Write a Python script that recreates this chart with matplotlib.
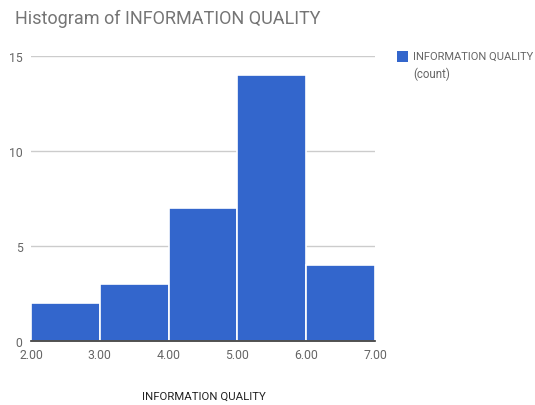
import matplotlib
matplotlib.use("Agg")
import matplotlib.pyplot as plt
from matplotlib.patches import Rectangle

bin_edges = [2.0, 3.0, 4.0, 5.0, 6.0, 7.0]
counts = [2, 3, 7, 14, 4]
x_ticks = [2.0, 3.0, 4.0, 5.0, 6.0, 7.0]
x_tick_labels = ["2.00", "3.00", "4.00", "5.00", "6.00", "7.00"]
y_ticks = [0, 5, 10, 15]
title = "Histogram of INFORMATION QUALITY"
x_label = "INFORMATION QUALITY"
legend_label = "INFORMATION QUALITY\n(count)"

plt.rcParams['font.family'] = ['Roboto', 'DejaVu Sans']

fig = plt.figure(figsize=(5.35, 4.06), dpi=100)
ax = fig.add_axes([31/535, 64/406, 344/535, 285/406])

lefts = bin_edges[:-1]
widths = [b - a for a, b in zip(bin_edges[:-1], bin_edges[1:])]
ax.bar(lefts, counts, width=widths, align='edge', color='#3366cc',
       edgecolor='white', linewidth=1.2, zorder=2)

ax.set_xlim(2.0, 7.0)
ax.set_ylim(0, 15)
ax.set_xticks(x_ticks)
ax.set_xticklabels(x_tick_labels)
ax.set_yticks(y_ticks)
ax.yaxis.grid(True, color='#cccccc', linewidth=1, zorder=0)
ax.set_axisbelow(True)
for s in ['top', 'right', 'left']:
    ax.spines[s].set_visible(False)
ax.spines['bottom'].set_color('#333333')
ax.spines['bottom'].set_linewidth(1.2)
ax.spines['bottom'].set_zorder(3)
ax.tick_params(axis='both', length=0, labelsize=8.8, labelcolor='#666666')
ax.tick_params(axis='x', pad=5)
ax.tick_params(axis='y', pad=6)

fig.text(15/535, 1 - 19/406, title, fontsize=13.0, color='#757575',
         ha='left', va='center')
fig.text(204/535, 1 - 397/406, x_label, fontsize=8.2, color='#222222',
         ha='center', va='center')

fig.patches.append(Rectangle((397/535, 1 - 63/406), 11/535, 11/406,
                             transform=fig.transFigure, facecolor='#3366cc',
                             edgecolor='none'))
fig.text(413/535, 1 - 57/406, "INFORMATION QUALITY", fontsize=8.0,
         color='#666666', ha='left', va='center')
fig.text(413/535, 1 - 74/406, "(count)", fontsize=8.3,
         color='#666666', ha='left', va='center')

fig.savefig("out.png", dpi=100)
